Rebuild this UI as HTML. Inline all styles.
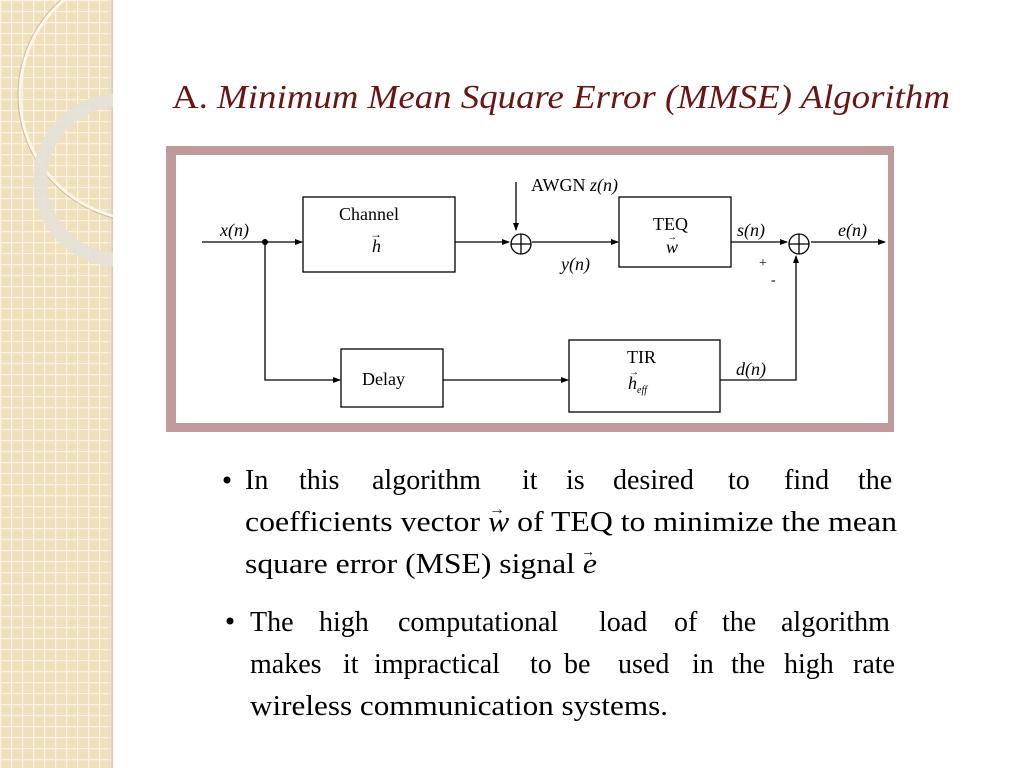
<!DOCTYPE html>
<html><head><meta charset="utf-8"><style>
html,body{margin:0;padding:0;background:#fff;}
svg{display:block;}
text{font-family:"Liberation Serif", serif;}
</style></head><body>
<svg width="1024" height="768" viewBox="0 0 1024 768" xmlns="http://www.w3.org/2000/svg">
<defs>
<pattern id="grid" width="11" height="11" patternUnits="userSpaceOnUse">
<rect width="11" height="11" fill="#f0dfbb"/>
<path d="M0 0.5H11M0.5 0V11" stroke="#fbf3e2" stroke-width="1.5"/>
</pattern>
<linearGradient id="sh" x1="0" x2="1"><stop offset="0" stop-color="#fff" stop-opacity="0"/><stop offset="1" stop-color="#c8b89a" stop-opacity="0.6"/></linearGradient>
<marker id="a" markerWidth="8" markerHeight="8" refX="7" refY="4" orient="auto" markerUnits="userSpaceOnUse"><path d="M0,1 L8,4 L0,7 Z" fill="#000"/></marker>
</defs>
<rect x="0" y="0" width="113" height="768" fill="url(#grid)"/>
<rect x="104" y="0" width="9" height="768" fill="url(#sh)"/>
<circle cx="145" cy="95" r="125" fill="none" stroke="#fffaf0" stroke-width="3" opacity="0.9"/>
<circle cx="145" cy="95" r="127" fill="none" stroke="#b8a078" stroke-width="1" opacity="0.6"/>
<circle cx="120" cy="180" r="80" fill="none" stroke="#e6e1d8" stroke-width="14" opacity="0.9"/>
<rect x="113" y="0" width="911" height="768" fill="#fff"/>

<text x="172" y="108" font-size="34" fill="#6b1414" textLength="778" lengthAdjust="spacingAndGlyphs">A. <tspan font-style="italic">Minimum Mean Square Error (MMSE) Algorithm</tspan></text>

<rect x="166" y="146" width="728" height="286" fill="#c09a9c"/>
<rect x="176" y="155" width="712" height="268" fill="#fff"/>

<g stroke="#000" stroke-width="1.3" fill="none">
<rect x="303" y="197" width="152" height="75"/>
<rect x="619" y="197" width="112" height="70"/>
<rect x="341" y="349" width="102" height="58"/>
<rect x="569" y="340" width="151" height="72"/>
<line x1="202" y1="242" x2="302" y2="242" marker-end="url(#a)"/>
<line x1="455" y1="242" x2="509" y2="242" marker-end="url(#a)"/>
<line x1="516" y1="182" x2="516" y2="230" marker-end="url(#a)"/>
<line x1="532" y1="242" x2="618" y2="242" marker-end="url(#a)"/>
<line x1="731" y1="242" x2="787" y2="242" marker-end="url(#a)"/>
<line x1="811" y1="242" x2="885" y2="242" marker-end="url(#a)"/>
<polyline points="265,242 265,380 340,380" marker-end="url(#a)"/>
<line x1="443" y1="380" x2="568" y2="380" marker-end="url(#a)"/>
<polyline points="720,380 796,380 796,256" marker-end="url(#a)"/>
<circle cx="521" cy="244" r="10"/>
<line x1="511" y1="244" x2="531" y2="244"/><line x1="521" y1="234" x2="521" y2="254"/>
<circle cx="799" cy="244" r="10"/>
<line x1="789" y1="244" x2="809" y2="244"/><line x1="799" y1="234" x2="799" y2="254"/>
</g>
<circle cx="265" cy="242" r="3" fill="#000"/>

<g font-size="18" fill="#000">
<text x="220" y="236" font-style="italic">x(n)</text>
<text x="339" y="220">Channel</text>
<text x="372" y="252" font-style="italic">h</text>
<text x="370" y="238" font-size="12">→</text>
<text x="531" y="191">AWGN <tspan font-style="italic">z(n)</tspan></text>
<text x="561" y="270" font-style="italic">y(n)</text>
<text x="653" y="230">TEQ</text>
<text x="666" y="253" font-style="italic">w</text>
<text x="667" y="240" font-size="10">→</text>
<text x="737" y="236" font-style="italic">s(n)</text>
<text x="838" y="236" font-style="italic">e(n)</text>
<text x="759" y="267" font-size="14">+</text>
<text x="771" y="284" font-size="14">-</text>
<text x="362" y="385">Delay</text>
<text x="627" y="363">TIR</text>
<text x="628" y="389" font-style="italic">h<tspan font-size="10" dy="4">eff</tspan></text>
<text x="629" y="375" font-size="10">→</text>
<text x="736" y="375" font-style="italic">d(n)</text>
</g>

<g font-size="28" fill="#000">
<circle cx="227" cy="480" r="3.5" fill="#000"/>
<text y="489"><tspan x="245">In</tspan><tspan x="299">this</tspan><tspan x="372">algorithm</tspan><tspan x="522">it</tspan><tspan x="566">is</tspan><tspan x="613">desired</tspan><tspan x="728">to</tspan><tspan x="784">find</tspan><tspan x="858">the</tspan></text>
<text x="245" y="531" textLength="652" lengthAdjust="spacingAndGlyphs">coefficients vector <tspan font-style="italic">w</tspan> of TEQ to minimize the mean</text>
<text x="489" y="514" font-size="16">→</text>
<text x="245" y="573" textLength="352" lengthAdjust="spacingAndGlyphs">square error (MSE) signal <tspan font-style="italic">e</tspan></text>
<text x="581" y="556" font-size="14">→</text>
<circle cx="230" cy="621" r="3.5" fill="#000"/>
<text y="631"><tspan x="250">The</tspan><tspan x="319">high</tspan><tspan x="398">computational</tspan><tspan x="599">load</tspan><tspan x="674">of</tspan><tspan x="722">the</tspan><tspan x="781">algorithm</tspan></text>
<text y="673"><tspan x="250">makes</tspan><tspan x="343">it</tspan><tspan x="374">impractical</tspan><tspan x="530">to</tspan><tspan x="564">be</tspan><tspan x="618">used</tspan><tspan x="692">in</tspan><tspan x="731">the</tspan><tspan x="784">high</tspan><tspan x="853">rate</tspan></text>
<text x="250" y="715" textLength="418" lengthAdjust="spacingAndGlyphs">wireless communication systems.</text>
</g>
</svg>
</body></html>
